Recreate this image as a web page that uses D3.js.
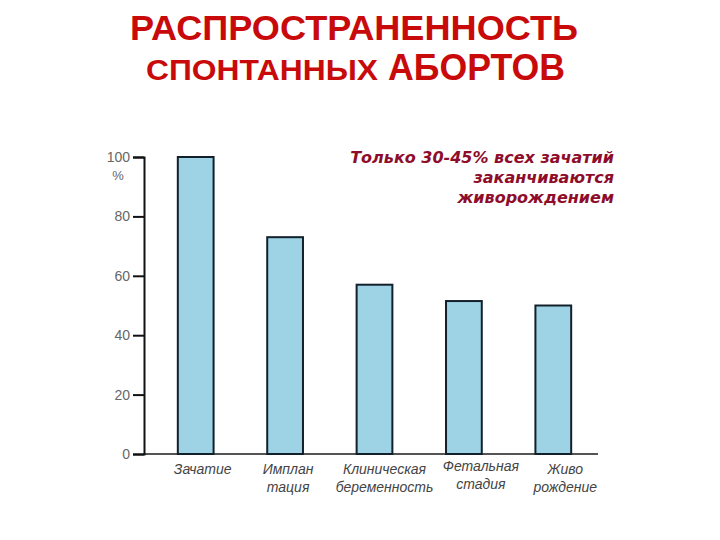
<!DOCTYPE html>
<html>
<head>
<meta charset="utf-8">
<script src="https://cdn.jsdelivr.net/npm/d3@7.9.0/dist/d3.min.js"></script>
<style>
  body { margin: 0; background: #fff; }
  svg { display: block; font-family: "Liberation Sans", Arial, sans-serif; }
</style>
</head>
<body>
<div id="chart"></div>
<script>
const categories = ['Зачатие', 'Имплантация', 'Клиническая беременность', 'Фетальная стадия', 'Живорождение'];
const labelLines = [['Зачатие'], ['Имплан', 'тация'], ['Клиническая', 'беременность'], ['Фетальная', 'стадия'], ['Живо', 'рождение']];
const values = [100, 73, 57, 51.5, 50];
const yTicks = [0, 20, 40, 60, 80, 100];
const titleLines = ['РАСПРОСТРАНЕННОСТЬ', 'СПОНТАННЫХ', 'АБОРТОВ'];
const noteLines = ['Только 30-45% всех зачатий', 'заканчиваются', 'живорождением'];

const width = 720;
const height = 540;

const svg = d3.select('#chart')
  .append('svg')
  .attr('width', width)
  .attr('height', height);

// title
svg.append('text')
  .attr('x', 354).attr('y', 40)
  .attr('text-anchor', 'middle')
  .attr('font-size', 35).attr('font-weight', 'bold')
  .attr('fill', '#c80a0a')
  .attr('textLength', 448).attr('lengthAdjust', 'spacingAndGlyphs')
  .text(titleLines[0]);

const t2 = svg.append('text')
  .attr('y', 80)
  .attr('font-weight', 'bold')
  .attr('fill', '#c80a0a');
t2.append('tspan').attr('x', 146).attr('font-size', 29)
  .attr('textLength', 232).attr('lengthAdjust', 'spacingAndGlyphs')
  .text(titleLines[1]);
t2.append('tspan').attr('x', 388).attr('font-size', 36)
  .attr('textLength', 177).attr('lengthAdjust', 'spacingAndGlyphs')
  .text(titleLines[2]);

// scales
const x = d3.scaleBand()
  .domain(categories)
  .range([151, 598])
  .paddingInner(0.6)
  .paddingOuter(0.3);

const y = d3.scaleLinear()
  .domain([0, 100])
  .range([454, 157]);

// x baseline
svg.append('line')
  .attr('x1', 144).attr('x2', 598)
  .attr('y1', y(0)).attr('y2', y(0))
  .attr('stroke', '#555').attr('stroke-width', 2);

// y axis
const yAxis = svg.append('g')
  .attr('transform', 'translate(144,0)')
  .call(d3.axisLeft(y).tickValues(yTicks).tickSize(11).tickPadding(3));
yAxis.select('.domain').attr('stroke', '#111').attr('stroke-width', 2);
yAxis.selectAll('.tick line').attr('stroke', '#111').attr('stroke-width', 2);
yAxis.selectAll('.tick text')
  .attr('fill', '#666').attr('font-size', 14)
  .attr('font-family', '"Liberation Sans", Arial, sans-serif');

svg.append('text')
  .attr('x', 118).attr('y', 180)
  .attr('text-anchor', 'middle')
  .attr('font-size', 13).attr('fill', '#666')
  .text('%');

// bars
svg.append('g')
  .selectAll('rect')
  .data(values)
  .join('rect')
  .attr('x', (d, i) => x(categories[i]))
  .attr('y', (d) => y(d))
  .attr('width', x.bandwidth())
  .attr('height', (d) => y(0) - y(d))
  .attr('fill', '#9dd3e5')
  .attr('stroke', '#12202c')
  .attr('stroke-width', 2);

// category labels
const labelOffsets = [7, 3, 10, 17, 12];
const labelTop = [474, 474, 474, 471, 474];
labelLines.forEach((lines, i) => {
  const cx = x(categories[i]) + x.bandwidth() / 2 + labelOffsets[i];
  const t = svg.append('text')
    .attr('text-anchor', 'middle')
    .attr('font-size', 14).attr('font-style', 'italic')
    .attr('fill', '#444');
  lines.forEach((s, j) => {
    t.append('tspan').attr('x', cx).attr('y', labelTop[i] + j * 18).text(s);
  });
});

// annotation
const note = svg.append('text')
  .attr('text-anchor', 'end')
  .attr('font-size', 16).attr('font-weight', 'bold').attr('font-style', 'italic')
  .attr('font-family', '"DejaVu Sans", sans-serif')
  .attr('fill', '#8e0d2a');
noteLines.forEach((s, j) => {
  note.append('tspan').attr('x', 614).attr('y', 163 + j * 20).text(s);
});
</script>
</body>
</html>
